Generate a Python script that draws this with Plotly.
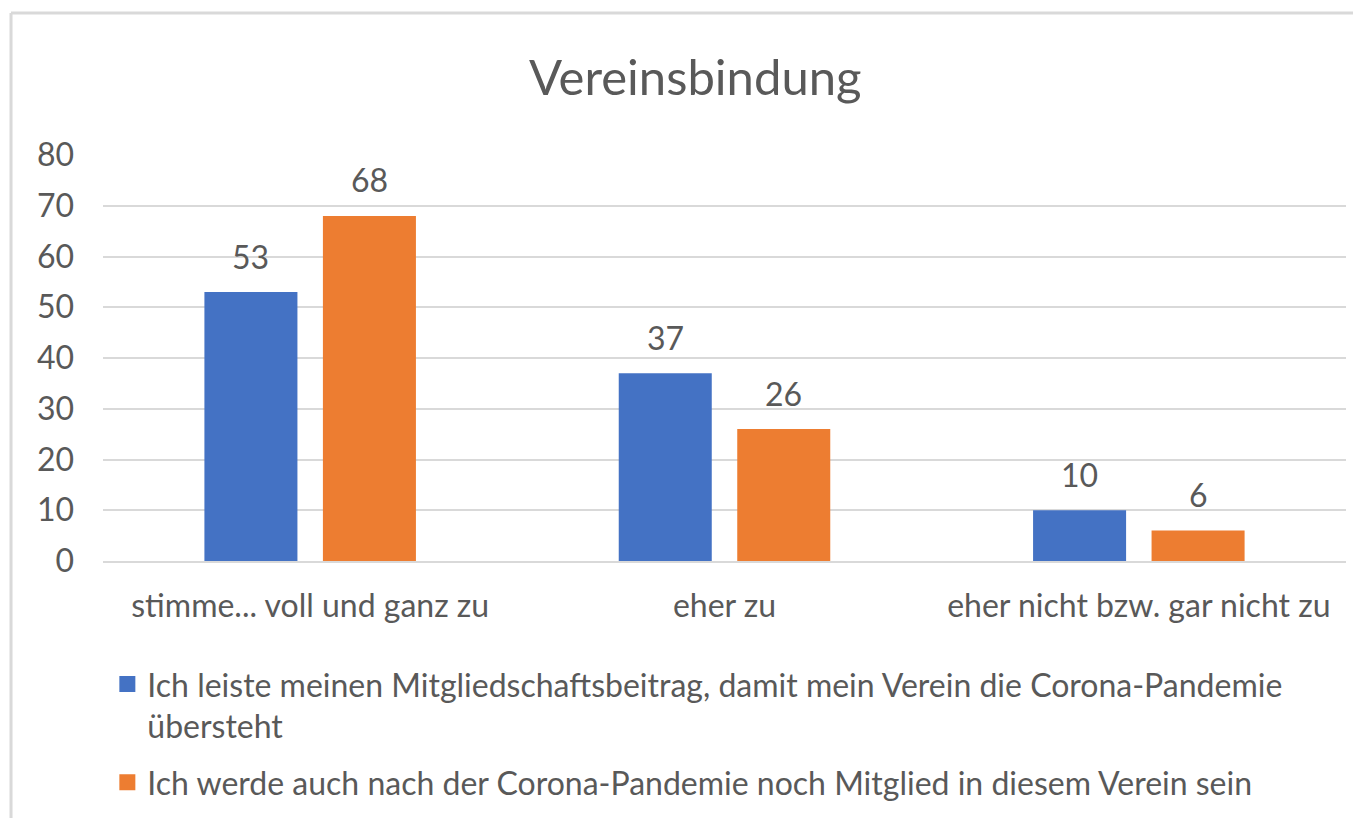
import plotly.graph_objects as go

categories = ["stimme... voll und ganz zu", "eher zu", "eher nicht bzw. gar nicht zu"]
series_names = [
    "Ich leiste meinen Mitgliedschaftsbeitrag, damit mein Verein die Corona-Pandemie<br>übersteht",
    "Ich werde auch nach der Corona-Pandemie noch Mitglied in diesem Verein sein",
]
beitrag_values = [53, 37, 10]
mitglied_values = [68, 26, 6]
y_ticks = [0, 10, 20, 30, 40, 50, 60, 70, 80]

FONT = "Lato"
GRAY = "#595959"
colors = ["#4472C4", "#ED7D31"]

W, H = 1345, 810
ML, MR, MT, MB = 95, 7, 147, 257
BARGAP, BARGROUPGAP = 0.428, 0.215

fig = go.Figure()
all_series = [beitrag_values, mitglied_values]
for k, (name, vals, col) in enumerate(zip(series_names, all_series, colors)):
    fig.add_trace(go.Bar(
        x=categories, y=vals, name=name, legendgroup=f"g{k}", showlegend=False,
        marker=dict(color=col, line=dict(width=0)),
    ))
# legend entries with larger square swatches
for k, (name, col) in enumerate(zip(series_names, colors)):
    fig.add_trace(go.Scatter(
        x=[None], y=[None], name=name, legendgroup=f"g{k}", mode="markers",
        marker=dict(symbol="square", size=18, color=col), hoverinfo="skip",
    ))

# data labels above bars (positioned from data values + bar group geometry)
plot_w = W - ML - MR
slot_px = plot_w / len(categories) * (1 - BARGAP) / len(all_series)
for i, vals in enumerate(all_series):
    offset = (i - (len(all_series) - 1) / 2) * slot_px
    for cat, v in zip(categories, vals):
        fig.add_annotation(x=cat, y=v, xref="x", yref="y", text=str(v), showarrow=False,
                           xshift=offset, yshift=36, yanchor="middle",
                           font=dict(family=FONT, size=32, color=GRAY))

fig.update_layout(
    width=W, height=H,
    margin=dict(l=ML, r=MR, t=MT, b=MB, autoexpand=False),
    paper_bgcolor="white", plot_bgcolor="white",
    font=dict(family=FONT, color=GRAY, size=32),
    title=dict(text="Vereinsbindung", x=0.511, xanchor="center", y=1 - 70 / H, yanchor="middle",
               font=dict(family=FONT, size=49, color=GRAY)),
    barmode="group", bargap=BARGAP, bargroupgap=BARGROUPGAP,
    showlegend=True,
    legend=dict(orientation="v", x=0.0035, xanchor="left", y=-0.236, yanchor="top",
                font=dict(family=FONT, size=32, color=GRAY), tracegroupgap=12,
                itemwidth=30, itemsizing="trace", valign="top", bgcolor="rgba(0,0,0,0)"),
)
fig.update_yaxes(range=[0, 80], tickvals=y_ticks, showgrid=True, gridcolor="#D9D9D9", gridwidth=2,
                 zeroline=False, showline=False, ticks="", ticklabelstandoff=28,
                 tickfont=dict(family=FONT, size=32, color=GRAY))
fig.update_xaxes(showgrid=False, showline=True, linecolor="#D9D9D9", linewidth=2, ticks="",
                 ticklabelstandoff=16, tickfont=dict(family=FONT, size=32, color=GRAY))

# chart-area border (left and top edges visible in the reference crop)
fig.add_shape(type="line", xref="paper", yref="paper", x0=-0.074, x1=-0.074, y0=-1.0, y1=1.35,
              line=dict(color="#D9D9D9", width=3), layer="below")
fig.add_shape(type="line", xref="paper", yref="paper", x0=-0.074, x1=1.2, y0=1.35, y1=1.35,
              line=dict(color="#D9D9D9", width=3), layer="below")

fig.write_html("out.html")
